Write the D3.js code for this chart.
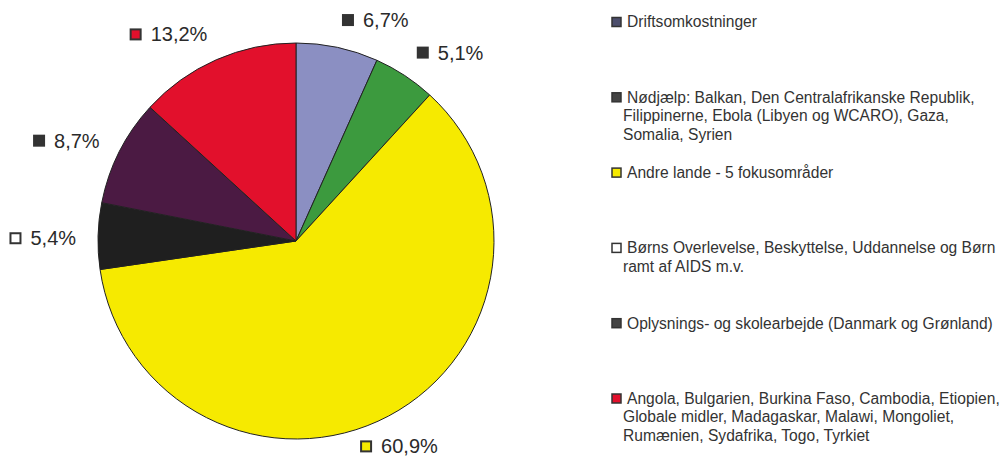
<!DOCTYPE html>
<html>
<head>
<meta charset="utf-8">
<script src="https://cdn.jsdelivr.net/npm/d3@7"></script>
<style>
  body { margin: 0; background: #fff; }
  svg { display: block; font-family: "Liberation Sans", Arial, sans-serif; }
</style>
</head>
<body>
<div class="svg-target"></div>
<script>
// Data (clockwise from 12 o'clock)
const shares = [6.7, 5.1, 60.9, 5.4, 8.7, 13.2];
const sliceColors = ['#8b8fc2', '#3c9a3e', '#f6ea00', '#1f1f1f', '#4b1a43', '#e2102c'];
const labelMarkers = ['#333', '#333', '#f6ea00', '#fff', '#333', '#e2102c'];
const legendMarkers = ['#4c4e6c', '#444', '#f6ea00', '#fff', '#444', '#e2102c'];
const legendLines = [
    ['Driftsomkostninger'],
    ['Nødjælp: Balkan, Den Centralafrikanske Republik,', 'Filippinerne, Ebola (Libyen og WCARO), Gaza,', 'Somalia, Syrien'],
    ['Andre lande - 5 fokusområder'],
    ['Børns Overlevelse, Beskyttelse, Uddannelse og Børn', 'ramt af AIDS m.v.'],
    ['Oplysnings- og skolearbejde (Danmark og Grønland)'],
    ['Angola, Bulgarien, Burkina Faso, Cambodia, Etiopien,', 'Globale midler, Madagaskar, Malawi, Mongoliet,', 'Rumænien, Sydafrika, Togo, Tyrkiet']
];

const w = 1001;
const h = 457;
const cx = 296, cy = 241, r = 198;

const svg = d3.select('.svg-target')
    .append('svg')
    .attr('width', w)
    .attr('height', h);

// Pie
const pie = d3.pie().sort(null).value(d => d);
const arcs = pie(shares);
const arc = d3.arc().innerRadius(0).outerRadius(r);

const g = svg.append('g').attr('transform', `translate(${cx},${cy})`);

g.selectAll('path')
    .data(arcs)
    .enter()
    .append('path')
        .attr('d', arc)
        .attr('fill', (d, i) => sliceColors[i])
        .attr('stroke', '#222')
        .attr('stroke-width', 1);

// Data labels
const fmt = v => d3.format('.1f')(v).replace('.', ',') + '%';
const labelR = 220;
const lh = 18;

arcs.forEach((d, i) => {
    const a = (d.startAngle + d.endAngle) / 2;
    const px = Math.sin(a) * labelR;
    const py = -Math.cos(a) * labelR;
    const lab = g.append('g');
    const txt = lab.append('text')
        .attr('x', 21)
        .attr('y', 0)
        .attr('dy', '0.35em')
        .attr('font-size', 20)
        .attr('fill', '#2a2a2a')
        .text(fmt(shares[i]));
    const bw = 21 + txt.node().getComputedTextLength();
    lab.insert('rect', 'text')
        .attr('x', 1)
        .attr('y', -5)
        .attr('width', 10)
        .attr('height', 10)
        .attr('fill', labelMarkers[i])
        .attr('stroke', '#333')
        .attr('stroke-width', 2);
    let left;
    if (Math.cos(a) < 0 && Math.abs(Math.sin(a)) < 0.5) left = px - bw / 2;
    else if (Math.sin(a) >= 0) left = px;
    else left = px - bw;
    const yc = py - Math.cos(a) * lh / 2 + 3;
    lab.attr('transform', `translate(${left},${yc})`);
});

// Legend
const legend = svg.append('g').attr('transform', 'translate(611,0)');
legendLines.forEach((lines, i) => {
    const y0 = 22 + i * 75.3;
    legend.append('rect')
        .attr('x', 1)
        .attr('y', y0 - 4.5)
        .attr('width', 9)
        .attr('height', 9)
        .attr('fill', legendMarkers[i])
        .attr('stroke', '#333')
        .attr('stroke-width', 1.5);
    lines.forEach((t, j) => {
        legend.append('text')
            .attr('x', j === 0 ? 16 : 12)
            .attr('y', y0 + j * 18.5)
            .attr('dy', '0.35em')
            .attr('font-size', 15.6)
            .attr('fill', '#333')
            .text(t);
    });
});
</script>
</body>
</html>
